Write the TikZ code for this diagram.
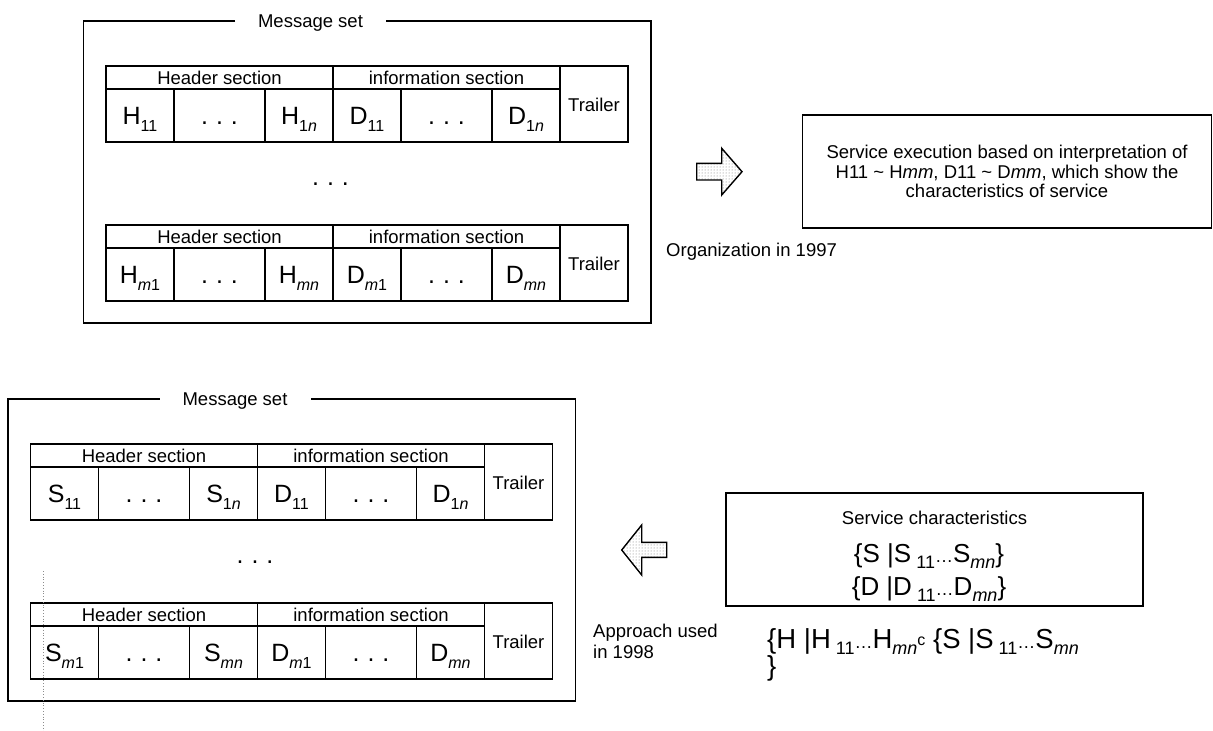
\documentclass[tikz,border=0pt]{standalone}
\usepackage{fontspec}
\setmainfont{Liberation Sans}
\usetikzlibrary{patterns}

% lowered subscripts for the table cells and the set notation
\newcommand\lowsub[1]{\raisebox{-7pt}{\fontsize{16}{16}\selectfont #1}}
\newcommand\brsub[1]{\raisebox{-6pt}{\fontsize{18}{18}\selectfont #1}}
\newcommand\brdots{{\fontsize{18}{18}\selectfont\ldots}}
\newcommand\celldots{.\hspace{8pt}.\hspace{8pt}.}

% one message row: header section, information section, trailer
% #1 name prefix, #2 x, #3 y, #4..#7 cell texts
\newcommand\msgrow[7]{%
  \begin{scope}[shift={(#2,#3)}]
    \draw[tbl] (0,0) rectangle (522,76);
    \draw[tbl] (0,23) -- (454,23) (227,0) -- (227,76) (454,0) -- (454,76)
      (68,23) -- (68,76) (159,23) -- (159,76)
      (295,23) -- (295,76) (386,23) -- (386,76);
    \node[lbl, anchor=base] (#1hdr) at (113.5,18.8) {Header section};
    \node[lbl, anchor=base] (#1inf) at (340.5,18.8) {information section};
    \node[lbl, anchor=base] (#1trl) at (488,45) {Trailer};
    \node[big, anchor=base] (#1c1) at (34,58) {#4};
    \node[big, anchor=base] (#1c2) at (113.5,58) {\celldots};
    \node[big, anchor=base] (#1c3) at (193,58) {#5};
    \node[big, anchor=base] (#1c4) at (261,58) {#6};
    \node[big, anchor=base] (#1c5) at (340.5,58) {\celldots};
    \node[big, anchor=base] (#1c6) at (420,58) {#7};
  \end{scope}}

% a whole message set: titled frame with a first and a last row
% #1 name prefix, #2 x, #3 y, #4 header letter
\newcommand\msgset[4]{%
  \begin{scope}[shift={(#2,#3)}]
    \draw[frame] (151.5,0) -- (0,0) -- (0,302) -- (567.5,302) -- (567.5,0) -- (302.5,0);
    \node[lbl, anchor=base] (#1title) at (227,6.7) {Message set};
    \msgrow{#1a}{22.5}{45}{#4\lowsub{11}}{#4\lowsub{1\textit{n}}}{D\lowsub{11}}{D\lowsub{1\textit{n}}}
    \node[big, anchor=base] (#1gap) at (247,164) {\celldots};
    \msgrow{#1b}{22.5}{204}{#4\lowsub{\textit{m}1}}{#4\lowsub{\textit{mn}}}{D\lowsub{\textit{m}1}}{D\lowsub{\textit{mn}}}
  \end{scope}}

\begin{document}
\begin{tikzpicture}[x=1pt, y=-1pt,
  lbl/.style={font=\fontsize{18.5}{21}\selectfont, inner sep=0pt},
  big/.style={font=\fontsize{25}{28}\selectfont, inner sep=0pt},
  brc/.style={font=\fontsize{26}{28}\selectfont, inner sep=0pt},
  brcwide/.style={font=\fontsize{27.5}{30}\selectfont, inner sep=0pt},
  tbl/.style={line width=1.8pt},
  frame/.style={line width=1.5pt},
  boxed/.style={draw, line width=1.6pt, inner sep=0pt},
  fatarrow/.style={draw, line width=1.4pt, line join=miter,
    preaction={fill=white}, pattern=dots, pattern color=black!55}]
\useasboundingbox (0,0) rectangle (1213,731);
\fill[white] (0,0) rectangle (1213,731);

% 1997 organisation
\msgset{top}{83.5}{21}{H}

\draw[fatarrow] (696.7,163.3) -- (721.7,163.3) -- (721.7,148.3) -- (742,171.7)
  -- (721.7,195) -- (721.7,180) -- (696.7,180) -- cycle;

\node[boxed, minimum width=409pt, minimum height=113pt, align=center,
  font=\fontsize{18.5}{19.5}\selectfont] (exec) at (1007,171.5)
  {Service execution based on interpretation of\\
   H11 \textasciitilde{} H\textit{mm}, D11 \textasciitilde{} D\textit{mm}, which show the\\
   characteristics of service};
\node[lbl, anchor=base west] (org) at (666,256) {Organization in 1997};

% 1998 approach
\msgset{bot}{8}{399}{S}

\draw[fatarrow] (666.7,542.3) -- (641.7,542.3) -- (641.7,525) -- (621.7,550)
  -- (641.7,575) -- (641.7,557.3) -- (666.7,557.3) -- cycle;

\node[boxed, minimum width=417pt, minimum height=113pt] (chars) at (934.5,549.5) {};
\node[lbl, anchor=base] (charstitle) at (934.5,524) {Service characteristics};
\node[brc, anchor=base] (sset) at (929,562)
  {\{S |S\brsub{ 11}\brdots S\brsub{\textit{mn}}\}};
\node[brc, anchor=base] (dset) at (929,595)
  {\{D |D\brsub{ 11}\brdots D\brsub{\textit{mn}}\}};

\node[lbl, anchor=base west] (appr1) at (593,637.3) {Approach used};
\node[lbl, anchor=base west] (appr2) at (593,658.5) {in 1998};
\node[brcwide, anchor=base west] (hset) at (767,648)
  {\{H |H\brsub{ 11}\brdots H\brsub{\textit{mn}}\raisebox{3pt}{\fontsize{16}{16}\selectfont c} \{S |S\brsub{ 11}\brdots S\brsub{\textit{mn}}};
\node[brcwide, anchor=base west] (hclose) at (767,675) {\}};

% faint dotted guide at the lower left
\draw[black!45, line width=0.8pt, dotted] (43,571) -- (43,731);
\end{tikzpicture}
\end{document}
